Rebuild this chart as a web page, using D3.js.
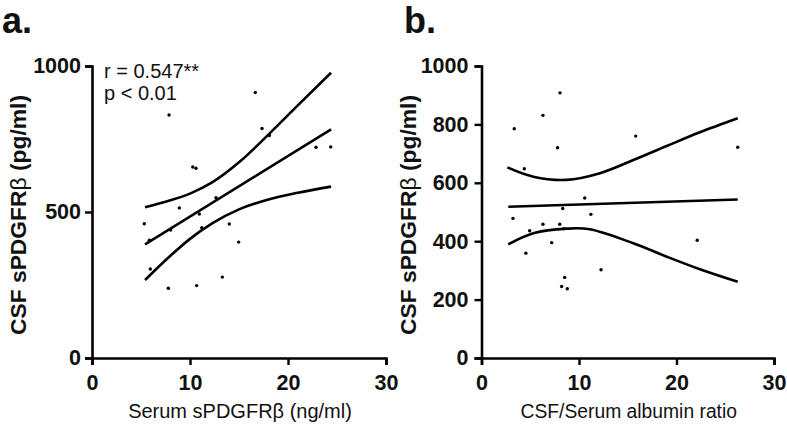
<!DOCTYPE html>
<html><head><meta charset="utf-8">
<script src="https://cdn.jsdelivr.net/npm/d3@7"></script>
<style>body{margin:0;background:#fff;font-family:"Liberation Sans",Arial,sans-serif;}</style>
</head><body>
<svg id="c" width="787" height="431"></svg>
<script>
// Panel a: Serum sPDGFRβ (ng/ml) vs CSF sPDGFRβ (pg/ml)
const aX = [7.86,16.66,17.35,18.1,22.86,24.36,10.28,10.61,12.65,8.91,10.95,5.34,14.01,8.03,11.2,5.85,14.97,5.95,13.3,7.79,10.68];
const aY = [832,909,786,762,722,723,654,650,549,514,493,460,459,438,446,403,397,305,277,239,248];
const aFit = [[5.41,389],[24.4,783]];
const aUpper = [[5.41,516],[8,540],[10,563],[12.3,602],[15,670],[18,765],[21,865],[24.4,977]];
const aLower = [[5.41,267],[8,350],[10,408],[12.3,462],[15,509],[18,543],[21,566],[24.4,587]];
// Panel b: CSF/Serum albumin ratio vs CSF sPDGFRβ (pg/ml)
const bX = [8.05,6.3,3.36,15.82,7.8,26.28,4.39,10.59,8.33,11.22,3.23,6.3,8.02,8.46,4.94,7.2,22.13,4.55,12.26,8.53,8.22,8.8];
const bY = [908,831,785,760,720,722,648,548,512,492,478,458,458,443,436,395,403,359,302,276,245,237];
const bFit = [[2.75,518],[26.28,543]];
const bUpper = [[2.65,653],[5.31,621],[8.73,610],[12.15,633],[15.57,678],[18.99,726],[22.4,773],[26.28,821]];
const bLower = [[2.75,389],[5.31,427],[8.74,443],[11.1,441],[15.57,393],[19,347],[22.4,304],[26.28,261]];

const aXTicks = [0,10,20,30], aYTicks = [0,500,1000];
const bXTicks = [0,10,20,30], bYTicks = [0,200,400,600,800,1000];

const svg = d3.select("#c");
const FONT = "'Liberation Sans', Arial, sans-serif";

function panel(cfg){
  const x = d3.scaleLinear().domain([0,30]).range([cfg.x0, cfg.x1]);
  const y = d3.scaleLinear().domain([0,1000]).range([358, 66]);
  const g = svg.append("g");
  const xa = g.append("g").attr("transform","translate(0,358)")
    .call(d3.axisBottom(x).tickValues(cfg.xt).tickSize(7).tickPadding(10).tickFormat(d3.format("d")));
  const ya = g.append("g").attr("transform",`translate(${cfg.x0},0)`)
    .call(d3.axisLeft(y).tickValues(cfg.yt).tickSize(7).tickPadding(cfg.ypad).tickFormat(d3.format("d")));
  [xa,ya].forEach(a=>{
    a.select(".domain").attr("stroke","#000").attr("stroke-width",2.6);
    a.selectAll(".tick line").attr("stroke","#000").attr("stroke-width",2.4);
    a.selectAll("text").attr("fill","#111").style("font-family",FONT).style("font-size","21.5px").style("font-weight","bold");
  });
  const line = d3.line().x(d=>x(d[0])).y(d=>y(d[1])).curve(cfg.curve);
  [cfg.fit,cfg.up,cfg.lo].forEach(c=>{
    g.append("path").attr("d",line(c)).attr("fill","none").attr("stroke","#000").attr("stroke-width",2.6);
  });
  g.selectAll("circle.p").data(cfg.xs.map((v,i)=>[v,cfg.ys[i]])).join("circle")
    .attr("cx",d=>x(d[0])).attr("cy",d=>y(d[1])).attr("r",1.7).attr("fill","#000");
  g.append("text").attr("x",(cfg.x0+cfg.x1)/2 + cfg.xlOff).attr("y",418).attr("text-anchor","middle")
    .style("font-family",FONT).style("font-size",cfg.xlSize+"px").attr("fill","#111").text(cfg.xlabel);
  const yt = g.append("text").attr("transform",`translate(${cfg.x0-66},215) rotate(-90)`).attr("text-anchor","middle")
    .attr("textLength",240).attr("lengthAdjust","spacingAndGlyphs")
    .style("font-family",FONT).style("font-size","22px").style("font-weight","bold").attr("fill","#111");
  yt.append("tspan").text("CSF sPDGFR");
  yt.append("tspan").style("font-weight","normal").text("β");
  yt.append("tspan").text(" (pg/ml)");
  g.append("text").attr("x",cfg.tagX).attr("y",33).style("font-family",FONT).style("font-size","36px")
    .style("font-weight","bold").attr("fill","#111").text(cfg.tag);
  return g;
}

const ga = panel({x0:92,x1:386,xs:aX,ys:aY,fit:aFit,up:aUpper,lo:aLower,xt:aXTicks,yt:aYTicks,ypad:4,
  curve:d3.curveMonotoneX,xlabel:"Serum sPDGFRβ (ng/ml)",xlSize:20,xlOff:1,tag:"a.",tagX:2});
ga.append("text").attr("x",104).attr("y",78).style("font-family",FONT).style("font-size","20px").attr("fill","#111").text("r = 0.547**");
ga.append("text").attr("x",104).attr("y",100).style("font-family",FONT).style("font-size","20px").attr("fill","#111").text("p < 0.01");
panel({x0:481.5,x1:774,xs:bX,ys:bY,fit:bFit,up:bUpper,lo:bLower,xt:bXTicks,yt:bYTicks,ypad:6,
  curve:d3.curveCatmullRom.alpha(0.5),xlabel:"CSF/Serum albumin ratio",xlSize:19.3,xlOff:1,tag:"b.",tagX:404});
</script>
</body></html>
